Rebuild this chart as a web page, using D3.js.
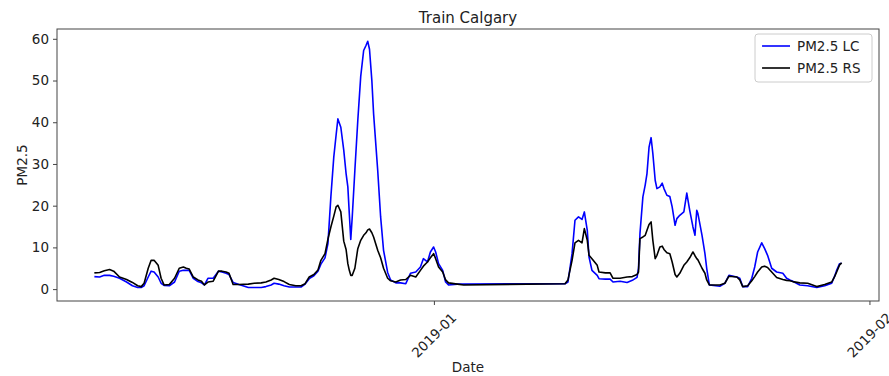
<!DOCTYPE html>
<html>
<head>
<meta charset="utf-8">
<script src="https://cdn.jsdelivr.net/npm/d3@7"></script>
<style>
  html, body { margin: 0; padding: 0; background: #fff; }
  svg { display: block; font-family: "DejaVu Sans", sans-serif; }
</style>
</head>
<body>
<svg id="chart" width="889" height="376"></svg>
<script>
// Hourly-ish timestamps of the Calgary training period
const dates = [
  "2018-12-07 20:00","2018-12-08 05:00","2018-12-08 13:00","2018-12-08 22:00","2018-12-09 05:00",
  "2018-12-09 15:00","2018-12-10 03:00","2018-12-10 13:00","2018-12-10 22:00","2018-12-11 04:00",
  "2018-12-11 09:00","2018-12-11 16:00","2018-12-11 21:00","2018-12-12 02:00","2018-12-12 09:00",
  "2018-12-12 14:00","2018-12-12 19:00","2018-12-13 04:00","2018-12-13 13:00","2018-12-13 21:00",
  "2018-12-14 04:00","2018-12-14 09:00","2018-12-14 14:00","2018-12-14 21:00","2018-12-15 05:00",
  "2018-12-15 11:00","2018-12-15 16:00","2018-12-15 22:00","2018-12-16 07:00","2018-12-16 16:00",
  "2018-12-16 22:00","2018-12-17 05:00","2018-12-17 10:00","2018-12-17 17:00","2018-12-18 03:00",
  "2018-12-18 19:00","2018-12-19 05:00","2018-12-19 17:00","2018-12-20 01:00","2018-12-20 10:00",
  "2018-12-20 15:00","2018-12-20 23:00","2018-12-21 08:00","2018-12-21 17:00","2018-12-22 04:00",
  "2018-12-22 13:00","2018-12-22 20:00","2018-12-23 03:00","2018-12-23 11:00","2018-12-23 18:00",
  "2018-12-23 23:00","2018-12-24 06:00","2018-12-24 11:00","2018-12-24 16:00","2018-12-24 21:00",
  "2018-12-25 01:00","2018-12-25 04:00","2018-12-25 09:00","2018-12-25 14:00","2018-12-25 18:00",
  "2018-12-25 21:00","2018-12-25 23:30","2018-12-26 02:00","2018-12-26 04:30","2018-12-26 09:00",
  "2018-12-26 14:00","2018-12-26 19:00","2018-12-27 00:00","2018-12-27 04:00","2018-12-27 07:00",
  "2018-12-27 10:00","2018-12-27 14:00","2018-12-27 17:00","2018-12-28 00:00","2018-12-28 05:00",
  "2018-12-28 10:00","2018-12-28 17:00","2018-12-28 22:00","2018-12-29 07:00","2018-12-29 15:00",
  "2018-12-30 00:00","2018-12-30 08:00","2018-12-30 17:00","2018-12-31 01:00","2018-12-31 06:00",
  "2018-12-31 13:00","2018-12-31 18:00","2018-12-31 23:30","2019-01-01 03:00","2019-01-01 08:00",
  "2019-01-01 15:00","2019-01-01 20:00","2019-01-02 01:00","2019-01-02 16:00","2019-01-03 03:00",
  "2019-01-10 08:00","2019-01-10 13:00","2019-01-10 20:00","2019-01-11 01:00","2019-01-11 07:00",
  "2019-01-11 13:00","2019-01-11 17:00","2019-01-11 22:00","2019-01-12 01:00","2019-01-12 06:00",
  "2019-01-12 15:00","2019-01-12 18:00","2019-01-13 05:00","2019-01-13 13:00","2019-01-13 18:00",
  "2019-01-14 06:00","2019-01-14 18:00","2019-01-15 03:00","2019-01-15 11:00","2019-01-15 13:30",
  "2019-01-15 16:00","2019-01-15 21:00","2019-01-16 01:00","2019-01-16 04:00","2019-01-16 07:30",
  "2019-01-16 11:00","2019-01-16 14:00","2019-01-16 18:00","2019-01-16 21:00","2019-01-17 02:00",
  "2019-01-17 06:00","2019-01-17 09:00","2019-01-17 14:00","2019-01-17 19:00","2019-01-17 23:00",
  "2019-01-18 04:00","2019-01-18 07:00","2019-01-18 12:00","2019-01-18 19:00","2019-01-19 00:00",
  "2019-01-19 05:00","2019-01-19 10:30","2019-01-19 14:00","2019-01-19 17:00","2019-01-19 19:00",
  "2019-01-20 02:00","2019-01-20 07:00","2019-01-20 10:00","2019-01-20 14:30","2019-01-21 08:30",
  "2019-01-21 17:00","2019-01-22 00:00","2019-01-22 13:30","2019-01-22 18:30","2019-01-22 23:30",
  "2019-01-23 08:00","2019-01-23 15:00","2019-01-23 20:00","2019-01-24 01:00","2019-01-24 08:00",
  "2019-01-24 13:00","2019-01-24 18:00","2019-01-25 01:00","2019-01-25 09:30","2019-01-25 20:00",
  "2019-01-26 02:30","2019-01-26 08:00","2019-01-26 13:00","2019-01-27 01:00","2019-01-27 14:30",
  "2019-01-28 06:00","2019-01-28 19:30","2019-01-29 07:30","2019-01-29 12:30","2019-01-29 16:00",
  "2019-01-29 21:00","2019-01-30 00:30"
];

// PM2.5 from the low-cost sensor
const pmLC = [
  3.0, 2.9, 3.3, 3.3, 3.1, 2.6, 1.7, 0.8, 0.4, 0.4,
  0.8, 2.9, 4.3, 4.1, 2.9, 1.4, 0.9, 0.8, 1.7, 4.3,
  4.5, 4.5, 4.5, 2.6, 1.8, 1.5, 1.0, 2.6, 2.6, 4.3,
  4.1, 3.8, 3.5, 1.6, 1.1, 0.4, 0.4, 0.4, 0.6, 1.0,
  1.4, 1.2, 0.8, 0.5, 0.5, 0.5, 1.2, 2.5, 3.2, 4.3,
  6.0, 7.5, 10.9, 22.1, 31.7, 37.0, 40.8, 38.8, 33.3, 27.7,
  24.5, 18.1, 11.9, 17.3, 28.5, 40.4, 51.0, 57.2, 58.4, 59.4,
  57.5, 50.0, 42.0, 28.5, 17.3, 9.3, 4.0, 2.2, 1.5, 1.5,
  1.3, 3.8, 4.1, 5.3, 7.3, 6.5, 8.9, 10.1, 8.9, 6.1,
  4.5, 1.7, 1.0, 1.2, 1.2,
  1.3, 1.7, 8.5, 16.5, 17.3, 16.7, 18.5, 14.1, 7.7, 4.5,
  3.3, 2.5, 2.4, 2.4, 1.7, 1.9, 1.6, 2.1, 2.8, 5.0,
  13.3, 22.1, 25.0, 27.7, 34.0, 36.3, 32.5, 26.1, 24.1, 24.5,
  25.4, 24.1, 22.5, 22.2, 19.7, 15.3, 16.9, 17.7, 18.5, 23.0,
  18.9, 14.9, 12.9, 18.9, 18.1, 12.9, 8.5, 5.0, 1.0, 0.7,
  1.4, 3.3, 2.9, 2.6, 0.6, 0.6, 2.6, 5.3, 8.9, 11.1,
  9.7, 8.1, 5.0, 4.1, 3.8, 2.6, 2.2, 1.9, 1.0, 0.8,
  0.4, 0.8, 1.4, 3.1, 4.5, 6.1, 6.2
];

// PM2.5 from the reference station
const pmRS = [
  3.9, 4.0, 4.4, 4.7, 4.3, 2.9, 2.3, 1.6, 0.8, 0.6,
  1.4, 5.0, 6.9, 6.9, 5.7, 2.6, 1.0, 1.1, 2.6, 5.0,
  5.3, 5.0, 4.8, 2.9, 2.2, 1.9, 1.0, 1.7, 1.9, 4.3,
  4.3, 4.1, 3.8, 1.1, 1.1, 1.2, 1.4, 1.5, 1.7, 2.2,
  2.6, 2.3, 1.8, 1.1, 0.8, 0.8, 1.3, 2.9, 3.5, 4.6,
  6.9, 8.5, 12.0, 14.9, 17.5, 19.7, 20.1, 18.5, 11.5, 9.5,
  6.1, 4.5, 3.3, 3.3, 5.0, 9.7, 11.7, 12.9, 13.5, 14.2,
  14.4, 13.5, 12.5, 9.3, 7.5, 5.0, 2.6, 2.0, 1.7, 2.2,
  2.3, 3.3, 2.9, 4.5, 5.5, 6.5, 7.5, 8.5, 7.3, 5.3,
  4.1, 2.2, 1.5, 1.2, 1.0,
  1.3, 2.2, 6.9, 11.1, 11.7, 11.1, 14.5, 11.7, 8.1, 7.3,
  5.7, 4.1, 3.9, 3.9, 2.6, 2.6, 2.9, 3.0, 3.5, 4.1,
  12.1, 12.5, 12.9, 14.1, 15.5, 16.1, 11.7, 7.3, 8.1, 10.1,
  10.3, 9.5, 8.7, 8.5, 6.5, 3.5, 2.9, 3.8, 5.7, 6.5,
  7.5, 8.9, 8.0, 7.3, 7.0, 5.0, 3.8, 2.2, 1.0, 1.0,
  1.4, 3.1, 2.9, 2.2, 0.6, 0.8, 2.0, 3.0, 4.1, 5.3,
  5.5, 5.2, 4.1, 2.8, 2.3, 2.1, 2.0, 1.8, 1.5, 1.4,
  0.6, 1.1, 1.7, 3.0, 4.1, 5.8, 6.3
];

const xTicks = ["2019-01-01", "2019-02-01"];
const xTickLabels = ["2019-01", "2019-02"];
const yTicks = [0, 10, 20, 30, 40, 50, 60];
const seriesNames = ["PM2.5 LC", "PM2.5 RS"];
const seriesColors = ["#0000ff", "#000000"];

const parse = d3.timeParse("%Y-%m-%d %H:%M");
const parseDay = d3.timeParse("%Y-%m-%d");
const times = dates.map(parse);

const svg = d3.select("#chart");
const m = { left: 57, right: 879, top: 29, bottom: 301 };

// Axis limits padded by 5% on each side
const tExt = d3.extent(times);
const tPad = (tExt[1] - tExt[0]) * 0.05;
const x = d3.scaleTime()
  .domain([new Date(+tExt[0] - tPad), new Date(+tExt[1] + tPad)])
  .range([m.left, m.right]);

const allVals = pmLC.concat(pmRS);
const vMin = d3.min(allVals), vMax = d3.max(allVals);
const vPad = (vMax - vMin) * 0.05;
const y = d3.scaleLinear()
  .domain([vMin - vPad - 0.3, vMax + vPad])
  .range([m.bottom, m.top]);

const fontSize = 13.5;
const textColor = "#222";

// Series lines
const line = vals => d3.line()
  .x((d, i) => x(times[i]))
  .y(d => y(d))(vals);

svg.append("g").selectAll("path")
  .data([pmLC, pmRS])
  .join("path")
  .attr("d", d => line(d))
  .attr("fill", "none")
  .attr("stroke", (d, i) => seriesColors[i])
  .attr("stroke-width", 1.6)
  .attr("stroke-linejoin", "round");

// Frame
svg.append("rect")
  .attr("x", m.left).attr("y", m.top)
  .attr("width", m.right - m.left).attr("height", m.bottom - m.top)
  .attr("fill", "none").attr("stroke", "#444").attr("stroke-width", 1);

// Y axis
const yAxis = d3.axisLeft(y).tickValues(yTicks).tickSize(4).tickPadding(4);
const gy = svg.append("g").attr("transform", `translate(${m.left},0)`).call(yAxis);
gy.select(".domain").remove();
gy.selectAll(".tick line").attr("stroke", "#444");
gy.selectAll(".tick text")
  .attr("font-family", "DejaVu Sans").attr("font-size", fontSize).attr("fill", textColor);

// X axis with labels rotated about their centre
const xAxis = d3.axisBottom(x).tickValues(xTicks.map(parseDay)).tickSize(4).tickFormat("");
const gx = svg.append("g").attr("transform", `translate(0,${m.bottom})`).call(xAxis);
gx.select(".domain").remove();
gx.selectAll(".tick line").attr("stroke", "#444");
svg.append("g").selectAll("text")
  .data(xTicks)
  .join("text")
  .attr("transform", d => `translate(${x(parseDay(d))},${m.bottom + 34}) rotate(-45)`)
  .attr("text-anchor", "middle")
  .attr("dominant-baseline", "central")
  .attr("font-size", fontSize)
  .attr("fill", textColor)
  .text((d, i) => xTickLabels[i]);

// Titles
const cx = (m.left + m.right) / 2;
svg.append("text").attr("x", cx).attr("y", 23)
  .attr("text-anchor", "middle").attr("font-size", 15).attr("fill", textColor)
  .text("Train Calgary");
svg.append("text").attr("x", cx).attr("y", 372)
  .attr("text-anchor", "middle").attr("font-size", fontSize).attr("fill", textColor)
  .text("Date");
svg.append("text")
  .attr("transform", `translate(27,${(m.top + m.bottom) / 2}) rotate(-90)`)
  .attr("text-anchor", "middle").attr("font-size", fontSize).attr("fill", textColor)
  .text("PM2.5");

// Legend
const lg = svg.append("g").attr("transform", "translate(755,34)");
lg.append("rect")
  .attr("width", 117).attr("height", 48).attr("rx", 3)
  .attr("fill", "#fff").attr("fill-opacity", 0.8)
  .attr("stroke", "#ccc");
seriesNames.forEach((name, i) => {
  const yy = 12 + i * 22;
  lg.append("line").attr("x1", 7).attr("x2", 35).attr("y1", yy).attr("y2", yy)
    .attr("stroke", seriesColors[i]).attr("stroke-width", 1.6);
  lg.append("text").attr("x", 42).attr("y", yy).attr("dominant-baseline", "central")
    .attr("font-size", fontSize).attr("fill", textColor).text(name);
});
</script>
</body>
</html>
